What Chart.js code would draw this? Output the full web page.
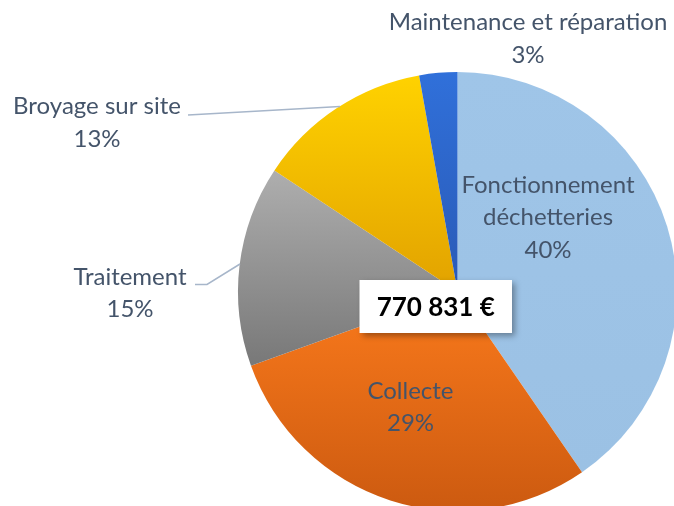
<!DOCTYPE html>
<html>
<head>
<meta charset="utf-8">
<script src="https://cdn.jsdelivr.net/npm/chart.js@4"></script>
<style>
  html, body { margin: 0; padding: 0; background: #fff; }
  #wrap { position: relative; width: 674px; height: 506px; overflow: hidden; }
  #pie { position: absolute; left: 0; top: 0; }
</style>
</head>
<body>
<div id="wrap"><canvas id="pie" width="700" height="540"></canvas></div>
<script>
// Data
const categories = ["Fonctionnement déchetteries", "Collecte", "Traitement", "Broyage sur site", "Maintenance et réparation"];
const shares = [40.4, 29.1, 14.8, 12.9, 2.8]; // % of total budget
const totalLabel = "770 831 €";

// Slice colours (top / bottom of gradient)
const topColors = ["#9FC5E8", "#FA7A1C", "#AEAEAE", "#FFD200", "#3070DA"];
const bottomColors = ["#9BC1E4", "#CC5A10", "#787878", "#E2A200", "#2A5AB6"];

// Label layout: text lines, centre x, first baseline, leader line
const labelLines = [
  ["Fonctionnement", "déchetteries"],
  ["Collecte"],
  ["Traitement"],
  ["Broyage sur site"],
  ["Maintenance et réparation"]
];
const labelX = [548, 410.5, 130, 97, 528];
const labelY = [192.5, 398.5, 284.5, 114, 30];
const leaders = [null, null, [[195, 284.5], [207, 284.5], [240, 264]], [[188, 115], [340, 106.5]], null];

const LINE_H = 32.5;
const TEXT_COLOR = "#44546A";

const sliceGradient = {
  id: "sliceGradient",
  beforeDatasetsDraw(chart) {
    const ctx = chart.ctx;
    chart.getDatasetMeta(0).data.forEach((arc, i) => {
      const { x, y, startAngle, endAngle, outerRadius } = arc.getProps(["x", "y", "startAngle", "endAngle", "outerRadius"], true);
      let minY = y, maxY = y;
      for (let k = 0; k <= 40; k++) {
        const a = startAngle + (endAngle - startAngle) * k / 40;
        const py = y + Math.sin(a) * outerRadius;
        minY = Math.min(minY, py);
        maxY = Math.max(maxY, py);
      }
      const g = ctx.createLinearGradient(0, minY, 0, maxY);
      g.addColorStop(0, topColors[i]);
      g.addColorStop(1, bottomColors[i]);
      arc.options.backgroundColor = g;
    });
  }
};

const labelsPlugin = {
  id: "labelsPlugin",
  afterDraw(chart) {
    const ctx = chart.ctx;
    ctx.save();

    // leader lines
    ctx.strokeStyle = "#A7B6CA";
    ctx.lineWidth = 1.5;
    leaders.forEach(pts => {
      if (!pts) return;
      ctx.beginPath();
      pts.forEach((p, k) => k ? ctx.lineTo(p[0], p[1]) : ctx.moveTo(p[0], p[1]));
      ctx.stroke();
    });

    // category labels
    ctx.fillStyle = TEXT_COLOR;
    ctx.font = "24px Lato";
    ctx.textAlign = "center";
    ctx.textBaseline = "alphabetic";
    categories.forEach((c, i) => {
      const lines = labelLines[i].concat([Math.round(shares[i]) + "%"]);
      lines.forEach((t, k) => ctx.fillText(t, labelX[i], labelY[i] + k * LINE_H));
    });

    // total box
    const bx = 359.5, by = 280, bw = 152.5, bh = 53;
    ctx.shadowColor = "rgba(0,0,0,0.35)";
    ctx.shadowBlur = 6;
    ctx.shadowOffsetX = 3;
    ctx.shadowOffsetY = 3;
    ctx.fillStyle = "#FFFFFF";
    ctx.fillRect(bx, by, bw, bh);
    ctx.shadowColor = "transparent";
    ctx.fillStyle = "#000000";
    ctx.font = "bold 26px Lato";
    ctx.fillText(totalLabel, bx + bw / 2, 316);
    ctx.restore();
  }
};

new Chart(document.getElementById("pie"), {
  type: "pie",
  data: {
    labels: categories,
    datasets: [{
      data: shares,
      backgroundColor: topColors,
      borderWidth: 0
    }]
  },
  options: {
    responsive: false,
    animation: false,
    devicePixelRatio: 1,
    layout: { padding: { left: 238, top: 72, right: 23, bottom: 29 } },
    plugins: {
      legend: { display: false },
      tooltip: { enabled: false }
    }
  },
  plugins: [sliceGradient, labelsPlugin]
});
</script>
</body>
</html>
